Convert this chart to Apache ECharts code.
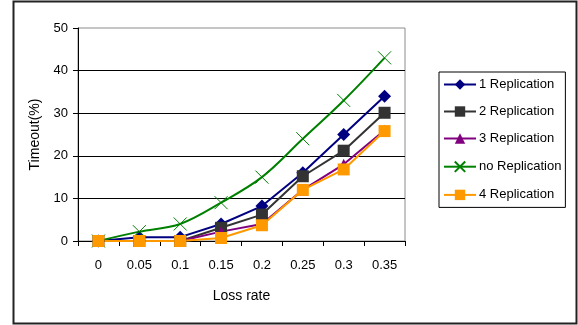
<!DOCTYPE html>
<html>
<head>
<meta charset="utf-8">
<script src="https://cdn.jsdelivr.net/npm/echarts@6/dist/echarts.min.js"></script>
<style>
  html, body { margin: 0; padding: 0; background: #fff; }
  #chart { width: 578px; height: 325px; }
</style>
</head>
<body>
<div id="chart"></div>
<script>
// Loss rate on the x axis, timeout percentage per replication scheme
var lossRates = ['0', '0.05', '0.1', '0.15', '0.2', '0.25', '0.3', '0.35'];
var rep1 = [0, 0.9, 0.9, 4, 8.2, 16, 25, 34];
var rep2 = [0, 0, 0, 3.1, 6.2, 15.2, 21.2, 30.1];
var rep3 = [0, 0, 0, 2.2, 4, 12, 18, 26];
var noRep = [0, 2.2, 4, 9, 15, 24, 33, 43];
var rep4 = [0, 0, 0, 0.7, 3.7, 12, 16.8, 25.8];
var yTicks = [0, 10, 20, 30, 40, 50];

var FONT = '"Liberation Sans", Arial, sans-serif';
var crossPath = 'path://M0,0L10,10M10,0L0,10';

function lineSeries(name, data, color, symbol, size) {
  return {
    name: name,
    type: 'line',
    data: data,
    symbol: symbol,
    symbolSize: size,
    lineStyle: { color: color, width: 2 },
    itemStyle: { color: color },
    emphasis: { disabled: true },
    animation: false
  };
}

var chart = echarts.init(document.getElementById('chart'), null, { renderer: 'canvas' });
chart.setOption({
  backgroundColor: '#fff',
  animation: false,
  textStyle: { fontFamily: FONT },
  graphic: [{
    type: 'rect',
    shape: { x: 13.5, y: 1.5, width: 563, height: 322 },
    style: { fill: 'none', stroke: '#222', lineWidth: 2 },
    silent: true
  }],
  grid: {
    left: 78, right: 173, top: 28, bottom: 84,
    show: true, borderColor: '#8c8c8c', borderWidth: 1, backgroundColor: 'transparent'
  },
  legend: {
    orient: 'vertical',
    left: 439, top: 72,
    padding: [6, 4, 6, 4],
    itemWidth: 32, itemHeight: 13,
    itemGap: 14,
    borderColor: '#000', borderWidth: 1,
    backgroundColor: '#fff',
    textStyle: { fontFamily: FONT, fontSize: 13, color: '#000', padding: [0, 0, 0, -2] },
    data: ['1 Replication', '2 Replication', '3 Replication', 'no Replication', '4 Replication']
  },
  xAxis: {
    type: 'category',
    data: lossRates,
    boundaryGap: true,
    name: 'Loss rate',
    nameLocation: 'middle',
    nameGap: 48,
    nameTextStyle: { fontFamily: FONT, fontSize: 14, color: '#000' },
    axisLine: { lineStyle: { color: '#000', width: 1 } },
    axisTick: { show: true, length: 5, alignWithLabel: false, lineStyle: { color: '#000' } },
    axisLabel: { fontFamily: FONT, fontSize: 13, color: '#000', margin: 18 },
    splitLine: { show: false }
  },
  yAxis: {
    type: 'value',
    min: yTicks[0], max: yTicks[yTicks.length - 1], interval: 10,
    name: 'Timeout(%)',
    nameLocation: 'middle',
    nameGap: 30,
    nameRotate: 90,
    nameTextStyle: { fontFamily: FONT, fontSize: 14, color: '#000' },
    axisLine: { show: true, lineStyle: { color: '#000', width: 1 } },
    axisTick: { show: true, length: 5, lineStyle: { color: '#000' } },
    axisLabel: { fontFamily: FONT, fontSize: 13, color: '#000', margin: 10 },
    splitLine: { show: true, showMaxLine: false, lineStyle: { color: '#000', width: 1 } }
  },
  series: [
    lineSeries('1 Replication', rep1, '#000080', 'diamond', 13),
    lineSeries('2 Replication', rep2, '#333333', 'rect', 12),
    lineSeries('3 Replication', rep3, '#800080', 'triangle', 11),
    {
      name: 'no Replication',
      type: 'line',
      data: noRep,
      smooth: 0.35,
      symbol: crossPath,
      symbolSize: 13,
      lineStyle: { color: '#008000', width: 2 },
      itemStyle: { color: 'none', borderColor: '#008000', borderWidth: 1 },
      emphasis: { disabled: true },
      animation: false
    },
    lineSeries('4 Replication', rep4, '#ff9900', 'rect', 12)
  ]
});
</script>
</body>
</html>
